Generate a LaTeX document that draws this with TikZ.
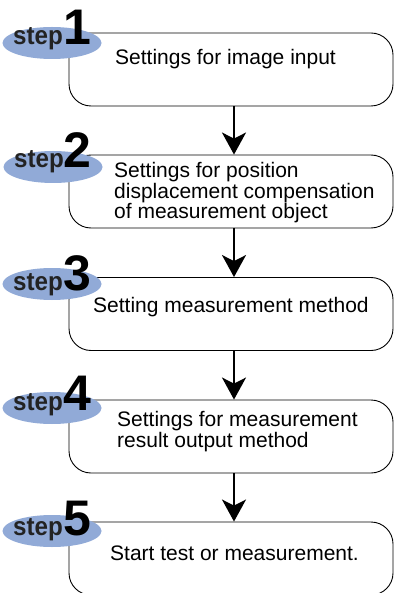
\documentclass[tikz,border=0pt]{standalone}
\usepackage{fontspec}
\setmainfont{Liberation Sans}
\usetikzlibrary{arrows.meta,shapes.geometric}
\definecolor{stepblue}{RGB}{145,170,215}
\definecolor{steptext}{RGB}{35,35,35}
\tikzset{
  stepframe/.style={draw, line width=0.9pt, rounded corners=22pt, minimum width=324pt, minimum height=73pt, inner sep=0pt},
  stepoval/.style={ellipse, fill=stepblue, minimum width=99pt, minimum height=32pt, inner sep=0pt},
  steplbl/.style={anchor=base west, inner sep=0pt, text=steptext, font=\fontsize{26}{26}\selectfont\bfseries},
  stepnum/.style={anchor=base west, inner sep=0pt, text=black, font=\fontsize{50}{50}\selectfont\bfseries},
  boxtext/.style={anchor=base west, inner sep=0pt, align=left, text=black, font=\fontsize{21}{20.5}\selectfont},
  flow/.style={line width=2pt, -{Stealth[length=22pt,width=24pt,inset=6pt]}}
}
\begin{document}
\begin{tikzpicture}[x=1pt,y=-1pt]
\useasboundingbox (0,0) rectangle (394,593);
\clip (0,0) rectangle (394,593);
% boxes
\node[stepframe] (b1) at (231,69.5) {};
\node[stepframe] (b2) at (231,191.5) {};
\node[stepframe] (b3) at (231,314) {};
\node[stepframe] (b4) at (231,436.5) {};
\node[stepframe] (b5) at (231,558.5) {};
% ovals
\node[stepoval] (e1) at (52,43) {};
\node[stepoval] (e2) at (53,167) {};
\node[stepoval] (e3) at (52,284) {};
\node[stepoval] (e4) at (52,408) {};
\node[stepoval] (e5) at (52,531) {};
% step labels
\node[steplbl] (s1) at (13,45) {\scalebox{0.93}[1]{step}};
\node[stepnum] (n1) at (63,45) {1};
\node[steplbl] (s2) at (14,168) {\scalebox{0.93}[1]{step}};
\node[stepnum] (n2) at (63,168) {2};
\node[steplbl] (s3) at (13,290) {\scalebox{0.93}[1]{step}};
\node[stepnum] (n3) at (63,290) {3};
\node[steplbl] (s4) at (13,410) {\scalebox{0.93}[1]{step}};
\node[stepnum] (n4) at (63,410) {4};
\node[steplbl] (s5) at (13,535) {\scalebox{0.93}[1]{step}};
\node[stepnum] (n5) at (63,535) {5};
% texts
\node[boxtext] (t1) at (115,65) {Settings for image input};
\node[boxtext] (t2) at (114,219) {Settings for position\\displacement compensation\\of measurement object};
\node[boxtext] (t3) at (93,312) {Setting measurement method};
\node[boxtext] (t4) at (117,447) {Settings for measurement\\result output method};
\node[boxtext] (t5) at (110,560) {Start test or measurement.};
% arrows
\draw[flow] ([xshift=3pt]b1.south) -- ([xshift=3pt]b2.north);
\draw[flow] ([xshift=3pt]b2.south) -- ([xshift=3pt]b3.north);
\draw[flow] ([xshift=3pt]b3.south) -- ([xshift=3pt]b4.north);
\draw[flow] ([xshift=3pt]b4.south) -- ([xshift=3pt]b5.north);
\end{tikzpicture}
\end{document}
